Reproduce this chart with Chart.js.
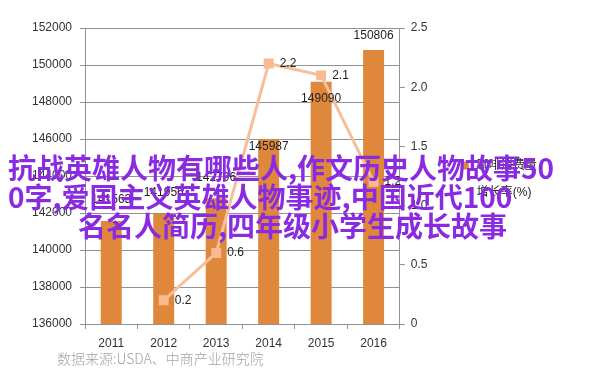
<!DOCTYPE html>
<html>
<head>
<meta charset="utf-8">
<script src="https://cdn.jsdelivr.net/npm/chart.js@4.4.1/dist/chart.umd.min.js"></script>
<style>
html, body { margin: 0; padding: 0; background: #fff; }
body { width: 602px; height: 384px; position: relative; overflow: hidden; }
#box { position: absolute; left: 0; top: 0; width: 602px; height: 384px; }
.fonte { position: absolute; left: 57px; top: 348px; font: 300 14px 'Noto Sans CJK SC', sans-serif; color: #a3a3a3; white-space: nowrap; }
.marca { position: absolute; font: bold 28px 'Noto Sans CJK SC', sans-serif; color: #8a2be2; white-space: nowrap; line-height: 28px; }
</style>
</head>
<body>
<div id="box"><canvas id="myChart" width="602" height="384"></canvas></div>
<div class="fonte">数据来源:USDA、中商产业研究院</div>
<div class="marca" style="left:8px;top:153px">抗战英雄人物有哪些人,作文历史人物故事50</div>
<div class="marca" style="left:8px;top:182px">0字,爱国主义英雄人物事迹,中国近代100</div>
<div class="marca" style="left:78px;top:211px">名名人简历,四年级小学生成长故事</div>
<script>
// dados
const anos = ['2011', '2012', '2013', '2014', '2015', '2016'];
const consumo = [141563, 141956, 142796, 145987, 149090, 150806]; // 咖啡消费量（千包）
const crescimento = [null, 0.2, 0.6, 2.2, 2.1, 1.2]; // 增长率(%)
const nomes = ['咖啡消费量（千包）', '增长率(%)'];

// eixos
const eixoEsq = { min: 136000, max: 152000, passo: 2000 };
const eixoDir = { min: 0, max: 2.5, passo: 0.5 };

const corBarra = '#df883c';
const corLinha = '#f7bf99';
const corGrade = '#929292';

Chart.defaults.font.family = "'Liberation Sans', 'Noto Sans CJK SC', sans-serif";
Chart.defaults.font.size = 12;
Chart.defaults.color = '#333';

// rotulos de valor (sem plugin externo)
const rotulos = {
    id: 'rotulos',
    afterLayout(chart) {
        // legenda fica mais perto do eixo direito, como no original
        const lg = chart.legend;
        const dx = (chart.chartArea.right + 44) - lg.left;
        lg.left += dx;
        lg.right += dx;
        lg.top += 3;
        lg.bottom += 3;
    },
    afterDatasetsDraw(chart, args, opts) {
        const ctx = chart.ctx;
        ctx.save();
        ctx.font = "12px 'Liberation Sans', sans-serif";
        ctx.fillStyle = '#222';
        ctx.textBaseline = 'middle';
        ctx.textAlign = 'center';
        chart.getDatasetMeta(0).data.forEach((bar, i) => {
            ctx.fillText(String(consumo[i]), bar.x, bar.y + opts.desvioBarra[i]);
        });
        ctx.textAlign = 'left';
        chart.getDatasetMeta(1).data.forEach((pt, i) => {
            if (crescimento[i] === null) return;
            ctx.fillText(String(crescimento[i]), pt.x + 11, pt.y);
        });
        ctx.restore();
    }
};

const data = {
    labels: anos,
    datasets: [{
        type: 'bar',
        label: nomes[0],
        data: consumo,
        backgroundColor: corBarra,
        borderWidth: 0,
        barPercentage: 0.4,
        categoryPercentage: 1,
        yAxisID: 'y',
        order: 1
    }, {
        type: 'line',
        label: nomes[1],
        data: crescimento,
        borderColor: corLinha,
        backgroundColor: corLinha,
        borderWidth: 3,
        tension: 0,
        pointStyle: 'rect',
        pointRadius: 7,
        pointBackgroundColor: '#f8b993',
        pointBorderWidth: 0,
        yAxisID: 'y1',
        order: 0
    }]
};

const options = {
    responsive: false,
    animation: false,
    layout: { padding: { left: 0, top: 28, right: 7, bottom: 30 } },
    plugins: {
        tooltip: { enabled: false },
        rotulos: { desvioBarra: [-21, -21, -21, 7, 17, -14] },
        legend: {
            position: 'right',
            fullSize: false,
            labels: {
                usePointStyle: true,
                boxWidth: 12,
                boxHeight: 8,
                padding: 15,
                color: '#222',
                font: { size: 12 },
                sort: (a, b) => a.datasetIndex - b.datasetIndex,
                generateLabels(chart) {
                    const itens = Chart.defaults.plugins.legend.labels.generateLabels(chart);
                    itens.forEach(it => {
                        it.pointStyle = it.datasetIndex === 0 ? 'rect' : 'line';
                    });
                    return itens;
                }
            }
        }
    },
    scales: {
        x: {
            grid: { display: true, drawOnChartArea: false, drawTicks: true, tickLength: 5, color: corGrade },
            border: { display: true, color: corGrade },
            ticks: { padding: 7, color: '#333' },
            afterFit(scale) { scale.height = 30; }
        },
        y: {
            position: 'left',
            min: eixoEsq.min,
            max: eixoEsq.max,
            grid: { color: corGrade, tickLength: 5 },
            border: { display: true, color: corGrade },
            ticks: { stepSize: eixoEsq.passo, padding: 8, color: '#333', callback: v => String(v) },
            afterFit(scale) { scale.width = 85; }
        },
        y1: {
            position: 'right',
            min: eixoDir.min,
            max: eixoDir.max,
            grid: { drawOnChartArea: false, tickLength: 5, color: corGrade },
            border: { display: true, color: corGrade },
            ticks: { stepSize: eixoDir.passo, padding: 6, color: '#333' },
            afterFit(scale) { scale.width = 96; }
        }
    }
};

const config = {
    type: 'bar',
    data: data,
    options: options,
    plugins: [rotulos]
};

const myChart = new Chart(document.getElementById('myChart'), config);
</script>
</body>
</html>
